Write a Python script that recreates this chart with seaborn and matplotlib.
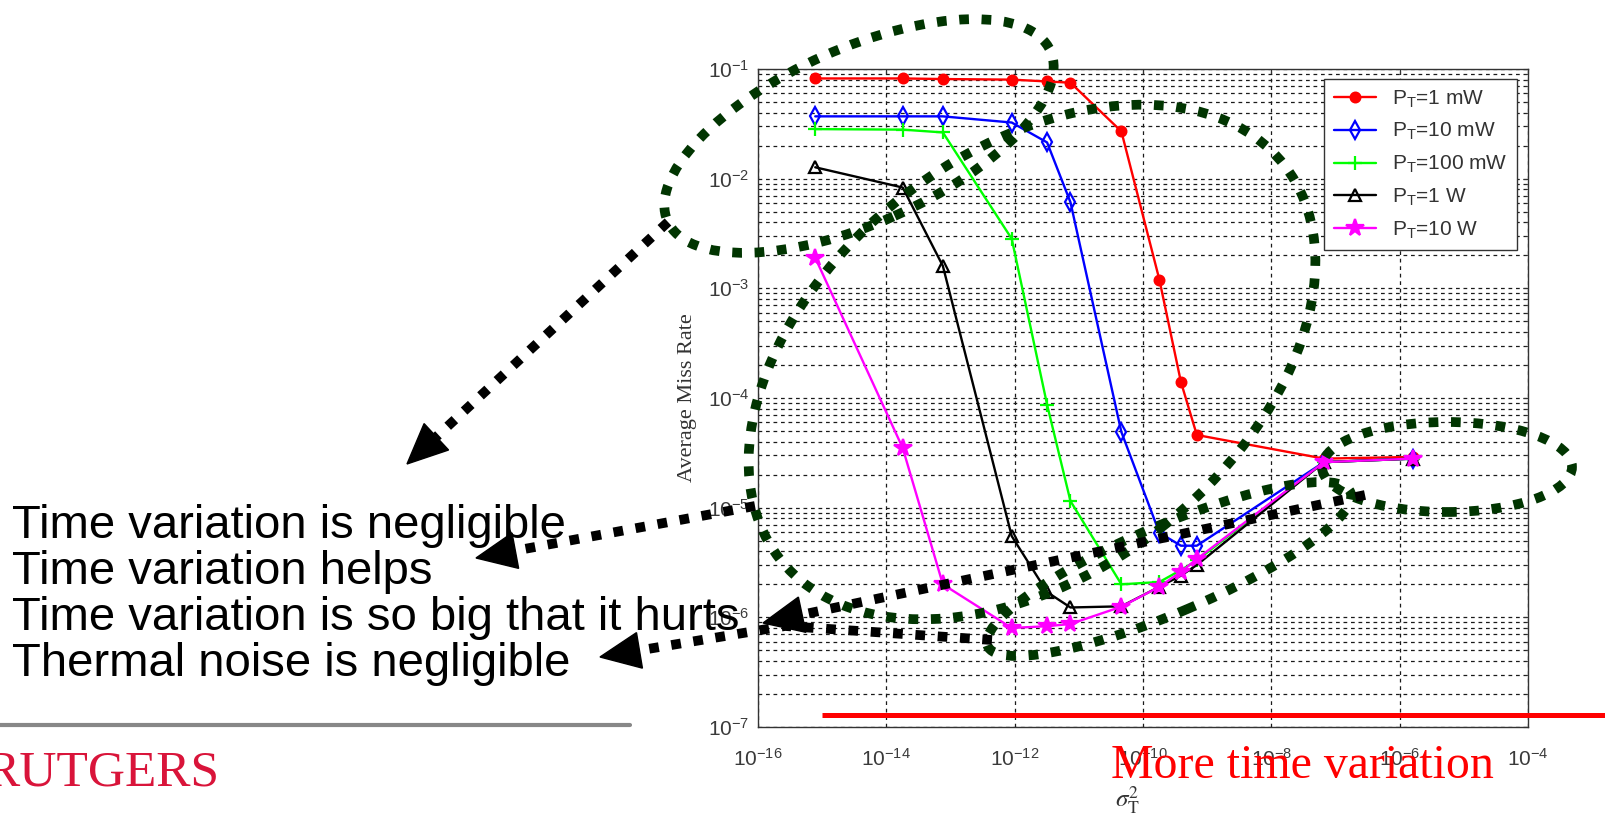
import numpy as np
import pandas as pd
import matplotlib
matplotlib.use('Agg')
import matplotlib.pyplot as plt
from matplotlib import ticker
from matplotlib.transforms import IdentityTransform
from matplotlib.patches import Ellipse, Polygon
from matplotlib.lines import Line2D
import seaborn as sns

W, H = 1606, 815

# values
sigma2 = [7.8e-16, 1.8e-14, 7.6e-14, 9.0e-13, 3.2e-12, 7.4e-12,
          4.6e-11, 1.8e-10, 3.9e-10, 6.9e-10, 6.6e-8, 1.6e-6]
miss_1mw = [0.082, 0.082, 0.081, 0.080, 0.077, 0.075,
            0.027, 1.2e-3, 1.4e-4, 4.6e-5, 2.8e-5, 2.9e-5]
miss_10mw = [0.037, 0.037, 0.037, 0.0325, 0.0214, 6.1e-3,
             4.9e-5, 5.9e-6, 4.5e-6, 4.5e-6, 2.6e-5, 2.8e-5]
miss_100mw = [0.0283, 0.028, 0.0264, 2.83e-3, 8.7e-5, 1.15e-5,
              2.0e-6, 2.1e-6, 2.7e-6, 3.3e-6, 2.6e-5, 2.8e-5]
miss_1w = [0.0127, 8.3e-3, 1.6e-3, 5.5e-6, 1.7e-6, 1.23e-6,
           1.26e-6, 1.9e-6, 2.4e-6, 3.0e-6, 2.6e-5, 2.8e-5]
miss_10w = [1.9e-3, 3.5e-5, 2.0e-6, 8.0e-7, 8.3e-7, 8.7e-7,
            1.25e-6, 1.9e-6, 2.6e-6, 3.4e-6, 2.6e-5, 2.8e-5]
labels = ['P$_\\mathregular{T}$=1 mW', 'P$_\\mathregular{T}$=10 mW',
          'P$_\\mathregular{T}$=100 mW', 'P$_\\mathregular{T}$=1 W',
          'P$_\\mathregular{T}$=10 W']
notes = ['Time variation is negligible', 'Time variation helps',
         'Time variation is so big that it hurts', 'Thermal noise is negligible']

sns.set_style('white')
plt.rcParams['font.family'] = ['Liberation Sans', 'DejaVu Sans']
plt.rcParams['mathtext.fontset'] = 'custom'
plt.rcParams['mathtext.rm'] = 'Liberation Sans'
plt.rcParams['mathtext.it'] = 'Liberation Sans:italic'

fig = plt.figure(figsize=(W / 100, H / 100), dpi=100)
ax = fig.add_axes([758 / W, (H - 727) / H, 770 / W, 658 / H])

styles = [
    dict(color='#ff0000', marker='o', markersize=7),
    dict(color='#0000ff', marker='d', markersize=9, markerfacecolor='none'),
    dict(color='#00ff00', marker='+', markersize=10),
    dict(color='#000000', marker='^', markersize=9, markerfacecolor='none'),
    dict(color='#ff00ff', marker='*', markersize=13),
]
for lab, vals, st in zip(labels, [miss_1mw, miss_10mw, miss_100mw, miss_1w, miss_10w], styles):
    df = pd.DataFrame({'sigma2': sigma2, 'miss': vals})
    sns.lineplot(data=df, x='sigma2', y='miss', ax=ax, label=lab, linewidth=1.7,
                 markeredgecolor=st['color'], markeredgewidth=1.6, **st)

ax.set_xscale('log')
ax.set_yscale('log')
ax.set_xlim(1e-16, 1e-4)
ax.set_ylim(1e-7, 1e-1)
ax.xaxis.set_major_locator(ticker.LogLocator(base=100))
ax.xaxis.set_major_formatter(ticker.LogFormatterSciNotation(base=10))
ax.xaxis.set_minor_locator(ticker.NullLocator())
ax.yaxis.set_major_locator(ticker.LogLocator(base=10))
ax.yaxis.set_minor_locator(ticker.LogLocator(base=10, subs=np.arange(2, 10)))
ax.yaxis.set_minor_formatter(ticker.NullFormatter())
gridkw = dict(color='#1a1a1a', linewidth=0.9, linestyle=(0, (3, 3)))
ax.grid(which='major', axis='both', **gridkw)
ax.grid(which='minor', axis='y', **gridkw)
ax.tick_params(which='both', direction='in', top=True, right=True,
               labelsize=15, labelcolor='#3a3a3a', color='#333333')
ax.tick_params(axis='x', pad=15)
ax.tick_params(axis='y', pad=6)
for s in ax.spines.values():
    s.set_color('#333333')
    s.set_linewidth(1)

ax.set_ylabel('Average Miss Rate', family='Liberation Serif', fontsize=16, color='#333333')
ax.yaxis.set_label_coords((697 - 758) / 770, 0.5)
ax.set_xlabel('$\\sigma^{2}_{\\mathrm{T}}$', fontsize=18, color='#333333', math_fontfamily='stix')
ax.xaxis.set_label_coords((1127 - 758) / 770, -(784 - 727) / 658)

leg = ax.legend(loc='upper right', bbox_to_anchor=((1517 - 758) / 770, 1 - (79 - 69) / 658),
                borderaxespad=0, fontsize=15, frameon=True, fancybox=False,
                edgecolor='#333333', framealpha=1, handlelength=2.0, labelspacing=0.55,
                borderpad=0.45)
leg.get_frame().set_linewidth(1)
for t in leg.get_texts():
    t.set_color('#333333')


def pt(x, y):
    return (x, H - y)


GREEN = '#013501'
DOTS = (0, (1, 1.3))


def ellipse(cx, cy, w, h, ang):
    e = Ellipse(pt(cx, cy), w, h, angle=ang, transform=IdentityTransform(), fill=False,
                edgecolor=GREEN, linewidth=7, linestyle=DOTS, zorder=5)
    fig.add_artist(e)


def arrow(pts, color='black', lw=7, hl=40, hw=36, ls=DOTS):
    xs = [p[0] for p in pts]
    ys = [H - p[1] for p in pts]
    x1, y1, x2, y2 = xs[-2], ys[-2], xs[-1], ys[-1]
    d = np.hypot(x2 - x1, y2 - y1)
    ux, uy = (x2 - x1) / d, (y2 - y1) / d
    bx, by = x2 - ux * hl, y2 - uy * hl
    ln = Line2D(xs[:-1] + [bx], ys[:-1] + [by], transform=IdentityTransform(), color=color,
                linewidth=lw, linestyle=ls, dash_capstyle='butt', solid_capstyle='butt', zorder=6)
    fig.add_artist(ln)
    head = Polygon([[x2, y2], [bx - uy * hw / 2, by + ux * hw / 2], [bx + uy * hw / 2, by - ux * hw / 2]],
                   closed=True, transform=IdentityTransform(), color=color, zorder=6)
    fig.add_artist(head)


# annotation shapes
ellipse(859, 136, 419, 175, 24)
ellipse(1032, 362, 640, 420, 38)
ellipse(1169, 569, 394, 88, 23)
ellipse(1447, 467, 250, 90, 0)

arrow([(668, 222), (407, 464)])
arrow([(755, 506), (476, 558)])
arrow([(1365, 495), (763, 623)])
arrow([(992, 640), (785, 626), (600, 657)])
arrow([(822, 715), (1665, 715)], color='#ff0000', lw=3.6, hl=50, hw=30, ls='-')

for txt, yb in zip(notes, [538, 584, 630, 676]):
    fig.text(12 / W, 1 - yb / H, txt, fontsize=34, color='black', va='baseline', ha='left')

fig.text(1111 / W, 1 - 778 / H, 'More time variation', family='Liberation Serif',
         fontsize=34.5, color='#ff0000', va='baseline', ha='left', zorder=7)

fig.add_artist(Line2D([0, 630], [H - 725, H - 725], transform=IdentityTransform(),
                      color='#878787', linewidth=3))
fig.text(-14 / W, 1 - 785 / H, 'RUTGERS', family='Liberation Serif', fontsize=37,
         color='#d9143a', va='baseline', ha='left')

fig.savefig('out.png', dpi=100)
